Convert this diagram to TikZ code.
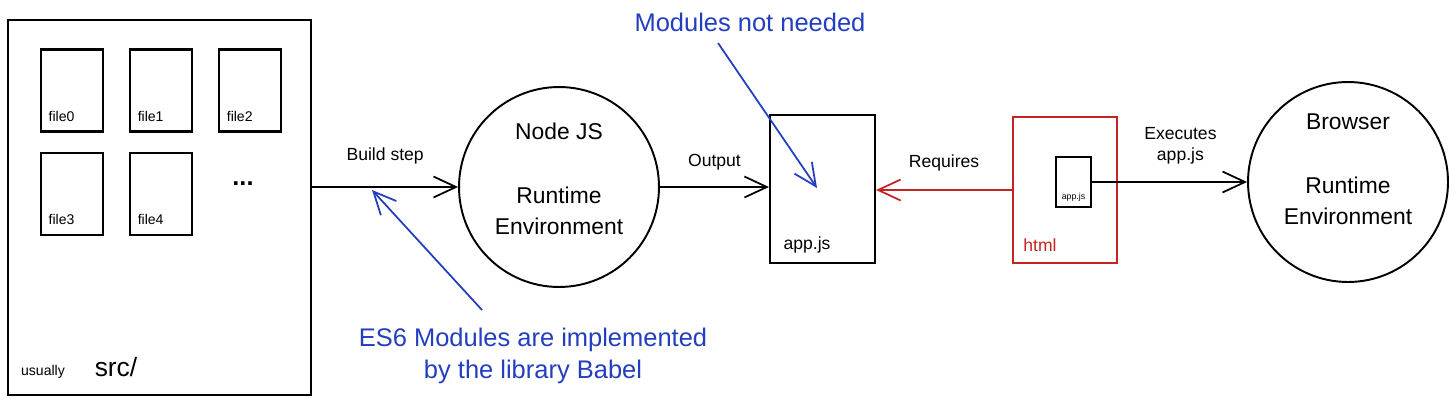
\documentclass[tikz,border=0pt]{standalone}
\usepackage{fontspec}
\setmainfont{Liberation Sans}
\usepackage{xcolor}
\usepackage{tikz}
\usetikzlibrary{arrows.meta, positioning}
\definecolor{noteblue}{RGB}{35,62,190}
\definecolor{htmlred}{RGB}{200,35,35}

\begin{document}
\begin{tikzpicture}[x=0.02cm, y=-0.02cm,
    box/.style={draw, line width=1.2pt, inner sep=0pt},
    filebox/.style={box, minimum width=1.24cm, minimum height=1.64cm},
    runtime/.style={circle, draw, line width=1.1pt, minimum size=4cm, inner sep=0pt},
    big/.style={font=\fontsize{13}{17.5}\selectfont},
    small/.style={font=\fontsize{8}{9}\selectfont},
    lbl/.style={font=\fontsize{10}{12}\selectfont},
    note/.style={text=noteblue, font=\fontsize{14.5}{18}\selectfont, align=center},
    arr/.style={-{Straight Barb[length=4.5mm, width=4.2mm]}, line width=1pt}]
    \useasboundingbox (0,0) rectangle (1456,403);

    % source folder
    \node[box, line width=1.5pt, minimum width=6.06cm, minimum height=7.5cm] (src) at (159.5,207.5) {};
    \node[filebox] (f0) at (72,90.5) {};
    \node[filebox] (f1) [right = 0.5cm of f0] {};
    \node[filebox] (f2) [right = 0.5cm of f1] {};
    \node[filebox] (f3) [below = 0.38cm of f0] {};
    \node[filebox] (f4) [right = 0.5cm of f3] {};
    \node[small] (l0) [above right = 0.1cm and 0.05cm of f0.south west] {file0};
    \node[small] (l1) [above right = 0.1cm and 0.05cm of f1.south west] {file1};
    \node[small] (l2) [above right = 0.1cm and 0.05cm of f2.south west] {file2};
    \node[small] (l3) [above right = 0.1cm and 0.05cm of f3.south west] {file3};
    \node[small] (l4) [above right = 0.1cm and 0.05cm of f4.south west] {file4};
    \node[font=\Large\bfseries] (dots) at (243,184) {...};
    \node[small] (usu) at (43,372) {usually};
    \node[font=\fontsize{15}{18}\selectfont] (srcl) at (116,367) {src/};

    % node js
    \node[runtime] (nodejs) at (559,187) {};
    \node[big] (njt) at (559,131) {Node JS};
    \node[big, align=center] (njr) at (559,211) {Runtime\\Environment};

    % bundle and html
    \node[box, minimum width=2.1cm, minimum height=2.96cm] (app) at (822.5,189) {};
    \node[lbl] (appl) at (807,245) {app.js};
    \node[box, draw=htmlred, minimum width=2.08cm, minimum height=2.92cm] (html) at (1065,190) {};
    \node[lbl, text=htmlred] (htmll) at (1040,245) {html};
    \node[box, minimum width=0.7cm, minimum height=1cm] (inner) at (1073.5,182) {};
    \node[font=\fontsize{5}{6}\selectfont] (innerl) at (1073.5,197) {app.js};

    % browser
    \node[runtime] (browser) at (1348,182) {};
    \node[big] (brt) at (1348,122) {Browser};
    \node[big, align=center] (brr) at (1348,201) {Runtime\\Environment};

    \path[arr] (src.east |- nodejs.west) edge node[lbl, above=0.32cm] (bstep) {Build step} (nodejs.west);
    \path[arr] (nodejs.east) edge node[lbl, above=0.2cm] (outp) {Output} (nodejs.east -| app.west);
    \path[arr] (html.west) edge [htmlred] node[lbl, text=black, above=0.24cm] (req) {Requires} (html.west -| app.east);
    \path[arr] (inner.east) edge node[lbl, align=center, above=0.22cm, pos=0.57] (exe) {Executes\\app.js} (browser.west);

    % notes
    \node[note] (es6) at (533,356) {ES6 Modules are implemented\\by the library Babel};
    \node[note] (notneeded) at (750,22) {Modules not needed};
    \coordinate (es6tail) at (482,310);
    \coordinate (es6tip) at (372,190);
    \coordinate (nntail) at (718,43);
    \coordinate (nntip) at (817,188);
    \draw[arr, noteblue] (es6tail) -- (es6tip);
    \draw[arr, noteblue] (nntail) -- (nntip);
\end{tikzpicture}
\end{document}
